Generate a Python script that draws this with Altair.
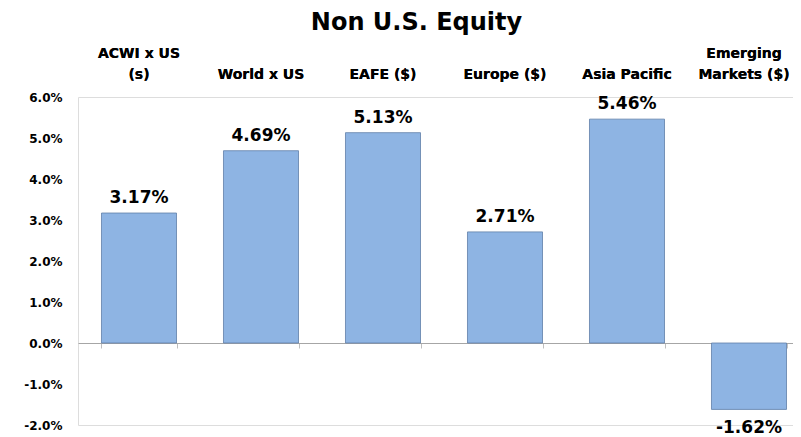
import altair as alt
import pandas as pd

categories = ["ACWI x US\n(s)", "\nWorld x US", "\nEAFE ($)", "\nEurope ($)", "\nAsia Pacific", "Emerging\nMarkets ($)"]
values = [3.17, 4.69, 5.13, 2.71, 5.46, -1.62]
y_ticks = [-2, -1, 0, 1, 2, 3, 4, 5, 6]

df = pd.DataFrame({
    "cat": categories,
    "val": [v / 100 for v in values],
    "lbl": [f"{v:.2f}%" for v in values],
})
FONT = "DejaVu Sans"

xscale = alt.Scale(range=[0, 732], paddingInner=0.385, paddingOuter=0.1925)
yscale = alt.Scale(domain=[-0.02, 0.06], nice=False)

yaxis = alt.Axis(values=[t / 100 for t in y_ticks],
                 labelExpr="replace(format(datum.value, '.1%'), '\u2212', '-')",
                 grid=False, domain=False,
                 ticks=False, labelPadding=16, labelFont=FONT, labelFontSize=12,
                 labelFontWeight="bold", labelColor="black", title=None)

top_axis = alt.Axis(orient="top", domain=False, ticks=False, labelAngle=0, labelFont=FONT,
                    labelFontSize=14, labelFontWeight="bold", labelColor="black",
                    labelExpr="split(datum.value, '\\n')", labelLimit=200,
                    labelOffset={"condition": {"test": "indexof(datum.value, 'Markets') >= 0", "value": -5},
                                 "value": 0},
                    labelPadding=37, labelLineHeight=21, labelBaseline="bottom", title=None)

bottom_axis = alt.Axis(orient="bottom", offset=-82, labels=False, tickBand="extent",
                       domainColor="#a6a6a6", tickColor="#bfbfbf", tickSize=5,
                       domainWidth=1, title=None)

x_top = alt.X("cat:N", sort=None, scale=xscale, axis=top_axis)
x_bot = alt.X("cat:N", sort=None, scale=xscale, axis=bottom_axis)
y = alt.Y("val:Q", scale=yscale, axis=yaxis)

bars = alt.Chart(df).mark_bar(color="#8EB4E3", stroke="#5F7FA8", strokeWidth=0.8).encode(x=x_top, y=y)

pos = alt.Chart(df).transform_filter("datum.val >= 0").mark_text(
    font=FONT, fontSize=17, fontWeight="bold", color="black", baseline="bottom", dy=-6
).encode(x=x_top, y=y, text="lbl:N")

neg = alt.Chart(df).transform_filter("datum.val < 0").mark_text(
    font=FONT, fontSize=17, fontWeight="bold", color="black", baseline="top", dy=11
).encode(x=x_bot, y=y, text="lbl:N")

chart = alt.layer(bars, pos, neg).resolve_axis(x="independent").properties(
    width=715, height=328,
    title=alt.TitleParams("Non U.S. Equity", font=FONT, fontSize=24, fontWeight="bold",
                          color="black", anchor="middle", dx=-19, offset=11),
    padding={"left": 70, "top": 89, "right": 0, "bottom": 12},
    autosize="none",
).configure_view(stroke=None).configure(background="white")

chart.save("out.html", embed_options={"renderer": "svg", "actions": False})
